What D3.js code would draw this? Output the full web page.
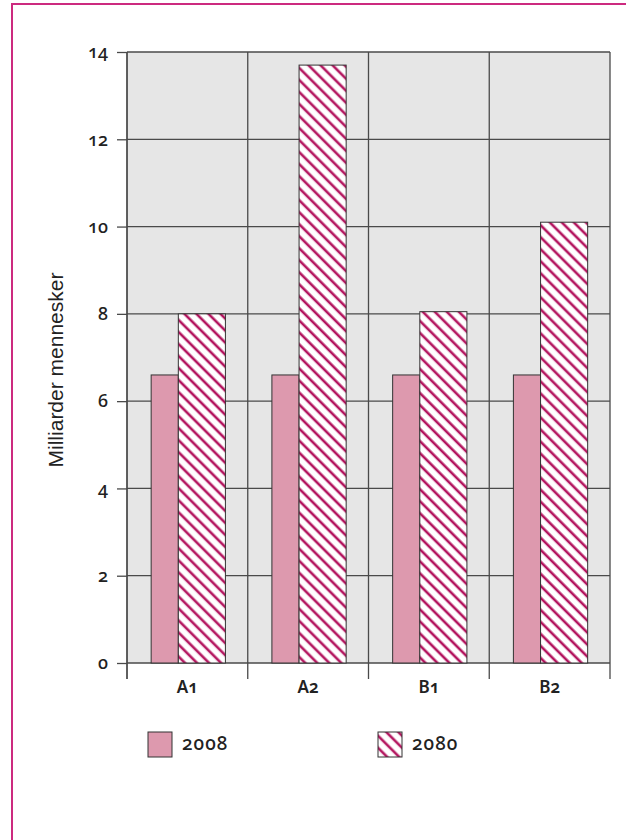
<!DOCTYPE html>
<html><head><meta charset="utf-8">
<script src="https://cdn.jsdelivr.net/npm/d3@7/dist/d3.min.js"></script>
<style>
html,body{margin:0;padding:0;background:#fff;overflow:hidden;width:630px;height:840px;}
svg{display:block;}
.onum{font-family:"Noto Sans","Open Sans",sans-serif;font-variant-numeric:oldstyle-nums;font-feature-settings:"onum" 1;}
</style></head>
<body>
<svg id="chart" width="630" height="840"></svg>
<script>
const categories = ["A1", "A2", "B1", "B2"];
const series = ["2008", "2080"];
const values2008 = [6.6, 6.6, 6.6, 6.6];
const values2080 = [8.0, 13.7, 8.05, 10.1];
const yTicks = [0, 2, 4, 6, 8, 10, 12, 14];
const yTitle = "Milliarder mennesker";

const svg = d3.select("#chart");
const defs = svg.append("defs");
const pat = defs.append("pattern").attr("id","hatch").attr("patternUnits","userSpaceOnUse")
  .attr("width",8.5).attr("height",8.5).attr("patternTransform","rotate(-45)");
pat.append("rect").attr("width",8.5).attr("height",8.5).attr("fill","#fff");
pat.append("line").attr("x1",2).attr("x2",2).attr("y1",0).attr("y2",8.5)
  .attr("stroke","#b3145e").attr("stroke-width",2.6);

// frame (top and left edges only)
svg.append("rect").attr("x",11).attr("y",3).attr("width",2).attr("height",837).attr("fill","#cc2a7f");
svg.append("rect").attr("x",11).attr("y",3).attr("width",615).attr("height",2).attr("fill","#cc2a7f");

const pL = 127, pR = 610, pT = 52, pB = 663;
const y = d3.scaleLinear().domain([0, 14]).range([pB, pT]);
const x = d3.scaleBand().domain(categories).range([pL, pR]).padding(0);
const bw = x.bandwidth();

svg.append("rect").attr("x",pL).attr("y",pT).attr("width",pR-pL).attr("height",pB-pT)
  .attr("fill","#e6e6e6");

// horizontal grid
svg.append("g").selectAll("line").data(yTicks).join("line")
  .attr("x1",pL).attr("x2",pR).attr("y1",d=>y(d)).attr("y2",d=>y(d))
  .attr("stroke","#4a4a4a").attr("stroke-width",1.3);

// vertical boundaries
const bounds = categories.map(c=>x(c)).concat([x(categories[categories.length-1])+bw]);
svg.append("g").selectAll("line").data(bounds).join("line")
  .attr("x1",d=>d).attr("x2",d=>d).attr("y1",pT).attr("y2",pB+16)
  .attr("stroke","#4a4a4a").attr("stroke-width",1.3);

// bars
const g = svg.append("g");
g.selectAll("rect.p").data(categories).join("rect").attr("class","p")
  .attr("x",(c)=>x(c)+bw*0.2).attr("width",bw*0.225)
  .attr("y",(c,i)=>y(values2008[i])).attr("height",(c,i)=>y(0)-y(values2008[i]))
  .attr("fill","#dd99ae").attr("stroke","#333").attr("stroke-width",1);
g.selectAll("rect.h").data(categories).join("rect").attr("class","h")
  .attr("x",(c)=>x(c)+bw*0.425).attr("width",bw*0.39)
  .attr("y",(c,i)=>y(values2080[i])).attr("height",(c,i)=>y(0)-y(values2080[i]))
  .attr("fill","url(#hatch)").attr("stroke","#333").attr("stroke-width",1);

// y axis
const ya = svg.append("g").attr("transform",`translate(${pL},0)`)
  .call(d3.axisLeft(y).tickValues(yTicks).tickSize(10).tickPadding(9).tickFormat(d3.format("d")));
ya.select(".domain").attr("stroke","#4a4a4a").attr("stroke-width",1.3).attr("d",`M0,${pT}V${pB+16}`);
ya.selectAll(".tick line").attr("stroke","#4a4a4a").attr("stroke-width",1.3);
ya.selectAll(".tick text").attr("class","onum").attr("font-size",18).attr("font-weight",500).attr("fill","#222");

// x axis
const xa = svg.append("g").attr("transform",`translate(0,${pB})`)
  .call(d3.axisBottom(x).tickSize(0).tickPadding(18));
xa.select(".domain").remove();
xa.selectAll(".tick text").attr("class","onum").attr("font-size",17).attr("font-weight",600).attr("fill","#222");

// y title
svg.append("text").attr("transform","translate(63,370) rotate(-90)").attr("text-anchor","middle")
  .attr("font-family","Liberation Sans, Arial, sans-serif").attr("font-size",21).attr("fill","#222")
  .text(yTitle);

// legend
const lg = svg.append("g");
const lx = [148, 378];
lg.selectAll("rect").data(series).join("rect")
  .attr("x",(d,i)=>lx[i]).attr("y",732).attr("width",24).attr("height",25)
  .attr("fill",(d,i)=>i===0?"#dd99ae":"url(#hatch)").attr("stroke","#333").attr("stroke-width",1);
lg.selectAll("text").data(series).join("text").attr("class","onum")
  .attr("x",(d,i)=>lx[i]+34).attr("y",750).attr("font-size",19).attr("letter-spacing",1).attr("font-weight",500).attr("fill","#222")
  .text(d=>d);
</script>
</body></html>
